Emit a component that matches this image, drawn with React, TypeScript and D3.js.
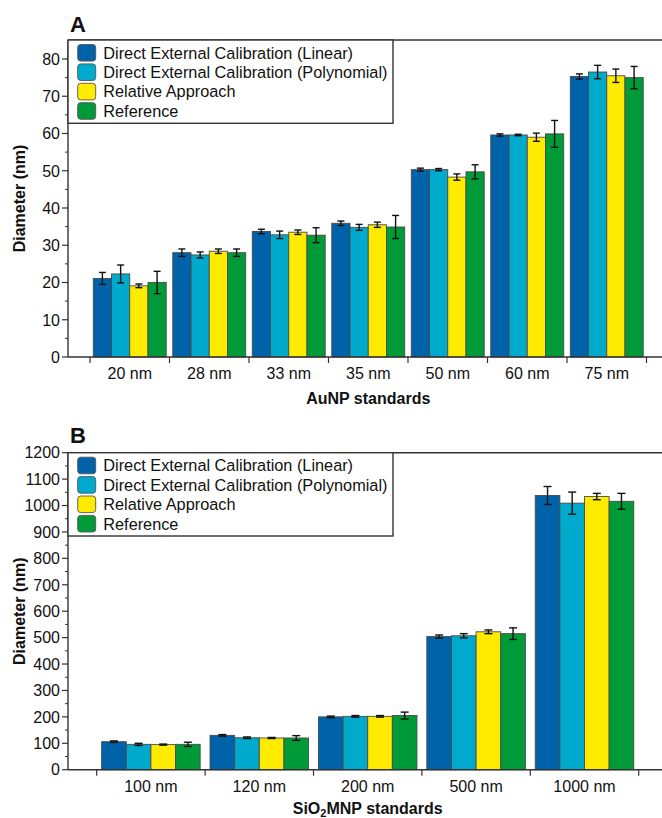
import React from "react";
import * as d3 from "d3";

// Series shared by both panels
const seriesNames = [
  "Direct External Calibration (Linear)",
  "Direct External Calibration (Polynomial)",
  "Relative Approach",
  "Reference",
];
const seriesColors = ["#0063aa", "#00aacd", "#ffeb00", "#009a38"];

// Panel A – gold nanoparticle standards
const auCategories = ["20 nm", "28 nm", "33 nm", "35 nm", "50 nm", "60 nm", "75 nm"];
const auLinear = [21.1, 28.0, 33.7, 35.9, 50.3, 59.6, 75.3];
const auLinearErr = [1.6, 1.0, 0.6, 0.6, 0.4, 0.3, 0.7];
const auPoly = [22.3, 27.4, 32.8, 34.8, 50.3, 59.6, 76.5];
const auPolyErr = [2.4, 0.8, 1.0, 0.8, 0.3, 0.2, 1.8];
const auRelative = [19.1, 28.4, 33.5, 35.5, 48.3, 59.0, 75.5];
const auRelativeErr = [0.5, 0.6, 0.6, 0.7, 0.85, 1.1, 1.8];
const auReference = [20.0, 28.0, 32.7, 34.9, 49.7, 59.9, 75.0];
const auReferenceErr = [3.0, 1.0, 2.0, 3.1, 1.9, 3.6, 3.0];
const auTicks = [0, 10, 20, 30, 40, 50, 60, 70, 80];

// Panel B – SiO2 nanoparticle standards
const siCategories = ["100 nm", "120 nm", "200 nm", "500 nm", "1000 nm"];
const siLinear = [106, 130, 200, 504, 1038];
const siLinearErr = [3, 3, 3, 6, 34];
const siPoly = [96, 121, 202, 507, 1009];
const siPolyErr = [4, 3, 3, 8, 42];
const siRelative = [95, 120, 202, 522, 1034];
const siRelativeErr = [2, 2, 3, 7, 12];
const siReference = [96, 120, 205, 515, 1016];
const siReferenceErr = [8, 9, 13, 22, 30];
const siTicks = [0, 100, 200, 300, 400, 500, 600, 700, 800, 900, 1000, 1100, 1200];

const FONT = "'Liberation Sans', Arial, Helvetica, sans-serif";
const W = 662;
const H = 818;

type PanelProps = {
  letter: string;
  letterY: number;
  top: number;
  bottom: number;
  yMax: number;
  ticks: number[];
  minorStep: number;
  categories: string[];
  values: number[][];
  errors: number[][];
  bandStart: number;
  bandEnd: number;
  groupPad: number;
  capW: number;
  xTitle: React.ReactNode;
  xTitleOffset: number;
};

const LEFT = 68;

function Panel(p: PanelProps) {
  const y = d3.scaleLinear().domain([0, p.yMax]).range([p.bottom, p.top]);
  const x = d3
    .scaleBand<string>()
    .domain(p.categories)
    .range([p.bandStart, p.bandEnd])
    .paddingInner(0)
    .paddingOuter(0);
  const xs = d3
    .scaleBand<number>()
    .domain(d3.range(seriesNames.length))
    .range([0, x.bandwidth()])
    .paddingInner(0)
    .paddingOuter(p.groupPad);

  const minor = d3.range(p.minorStep, p.ticks[p.ticks.length - 1], p.minorStep * 2);
  const boundaries = [...p.categories.map((c) => x(c) as number), p.bandEnd];
  const axisColor = "#333";
  const legendTop = p.top;
  const legendH = 83.3;
  const legendRight = 393;

  return (
    <g>
      <text x={70} y={p.letterY} fontFamily={FONT} fontWeight="bold" fontSize={22} fill="#111">
        {p.letter}
      </text>

      {/* bars */}
      {p.categories.map((c, ci) => (
        <g key={c} transform={`translate(${x(c)},0)`}>
          {seriesNames.map((s, si) => {
            const v = p.values[si][ci];
            return (
              <rect
                key={s}
                x={xs(si)}
                y={y(v)}
                width={xs.bandwidth()}
                height={y(0) - y(v)}
                fill={seriesColors[si]}
                stroke="#4a4a4a"
                strokeWidth={0.9}
              />
            );
          })}
        </g>
      ))}

      {/* error bars */}
      {p.categories.map((c, ci) => (
        <g key={c + "-err"} transform={`translate(${x(c)},0)`}>
          {seriesNames.map((s, si) => {
            const v = p.values[si][ci];
            const e = p.errors[si][ci];
            const cx = (xs(si) as number) + xs.bandwidth() / 2;
            const y1 = y(v + e);
            const y2 = y(v - e);
            return (
              <g key={s} stroke="#111" strokeWidth={1.4}>
                <line x1={cx} x2={cx} y1={y1} y2={y2} />
                <line x1={cx - p.capW / 2} x2={cx + p.capW / 2} y1={y1} y2={y1} />
                <line x1={cx - p.capW / 2} x2={cx + p.capW / 2} y1={y2} y2={y2} />
              </g>
            );
          })}
        </g>
      ))}

      {/* frame: top edge, left axis, baseline */}
      <line x1={LEFT} x2={W} y1={p.top} y2={p.top} stroke={axisColor} strokeWidth={1.4} />
      <line x1={LEFT} x2={LEFT} y1={p.top} y2={p.bottom} stroke={axisColor} strokeWidth={1.4} />
      <line x1={LEFT} x2={W} y1={p.bottom} y2={p.bottom} stroke={axisColor} strokeWidth={1.4} />

      {/* y ticks */}
      {p.ticks.map((t) => (
        <g key={t}>
          <line x1={LEFT - 6} x2={LEFT} y1={y(t)} y2={y(t)} stroke={axisColor} strokeWidth={1.2} />
          <text
            x={LEFT - 8}
            y={y(t)}
            dy="0.36em"
            textAnchor="end"
            fontFamily={FONT}
            fontSize={16}
            fill="#111"
          >
            {t}
          </text>
        </g>
      ))}
      {minor.map((t) => (
        <line key={"m" + t} x1={LEFT - 3} x2={LEFT} y1={y(t)} y2={y(t)} stroke={axisColor} strokeWidth={1} />
      ))}

      {/* x ticks at group boundaries */}
      {boundaries.map((b, i) => (
        <line key={"b" + i} x1={b} x2={b} y1={p.bottom} y2={p.bottom + 6} stroke={axisColor} strokeWidth={1.2} />
      ))}
      {p.categories.map((c) => (
        <text
          key={c + "-lab"}
          x={(x(c) as number) + x.bandwidth() / 2}
          y={p.bottom + 22}
          textAnchor="middle"
          fontFamily={FONT}
          fontSize={16}
          fill="#111"
        >
          {c}
        </text>
      ))}

      {/* axis titles */}
      <text
        x={(p.bandStart + p.bandEnd) / 2}
        y={p.bottom + p.xTitleOffset}
        textAnchor="middle"
        fontFamily={FONT}
        fontWeight="bold"
        fontSize={16}
        fill="#111"
      >
        {p.xTitle}
      </text>
      <text
        transform={`translate(25,${(p.top + p.bottom) / 2}) rotate(-90)`}
        textAnchor="middle"
        fontFamily={FONT}
        fontWeight="bold"
        fontSize={16}
        fill="#111"
      >
        Diameter (nm)
      </text>

      {/* legend */}
      <rect
        x={LEFT}
        y={legendTop}
        width={legendRight - LEFT}
        height={legendH}
        fill="#fff"
        stroke={axisColor}
        strokeWidth={1.4}
      />
      {seriesNames.map((s, i) => {
        const cy = legendTop + 12.8 + i * 19.4;
        return (
          <g key={s + "-leg"}>
            <rect
              x={77.7}
              y={cy - 8.3}
              width={18}
              height={16.6}
              rx={3}
              fill={seriesColors[i]}
              stroke="#555"
              strokeWidth={0.9}
            />
            <text x={103.3} y={cy} dy="0.36em" fontFamily={FONT} fontSize={16.3} fill="#111">
              {s}
            </text>
          </g>
        );
      })}
    </g>
  );
}

export default function App() {
  return (
    <svg
      width={W}
      height={H}
      viewBox={`0 0 ${W} ${H}`}
      style={{ position: "absolute", left: 0, top: 0, background: "#fff" }}
    >
      <rect width={W} height={H} fill="#fff" />
      <Panel
        letter="A"
        letterY={32}
        top={40}
        bottom={357}
        yMax={85.1}
        ticks={auTicks}
        minorStep={5}
        categories={auCategories}
        values={[auLinear, auPoly, auRelative, auReference]}
        errors={[auLinearErr, auPolyErr, auRelativeErr, auReferenceErr]}
        bandStart={90}
        bandEnd={646.5}
        groupPad={0.18}
        capW={7}
        xTitle="AuNP standards"
        xTitleOffset={47}
      />
      <Panel
        letter="B"
        letterY={443}
        top={452.7}
        bottom={769.7}
        yMax={1200}
        ticks={siTicks}
        minorStep={50}
        categories={siCategories}
        values={[siLinear, siPoly, siRelative, siReference]}
        errors={[siLinearErr, siPolyErr, siRelativeErr, siReferenceErr]}
        bandStart={96.7}
        bandEnd={638.7}
        groupPad={0.2}
        capW={8}
        xTitle={
          <>
            SiO
            <tspan dy={3} fontSize={11}>
              2
            </tspan>
            <tspan dy={-3}>MNP standards</tspan>
          </>
        }
        xTitleOffset={44}
      />
    </svg>
  );
}
